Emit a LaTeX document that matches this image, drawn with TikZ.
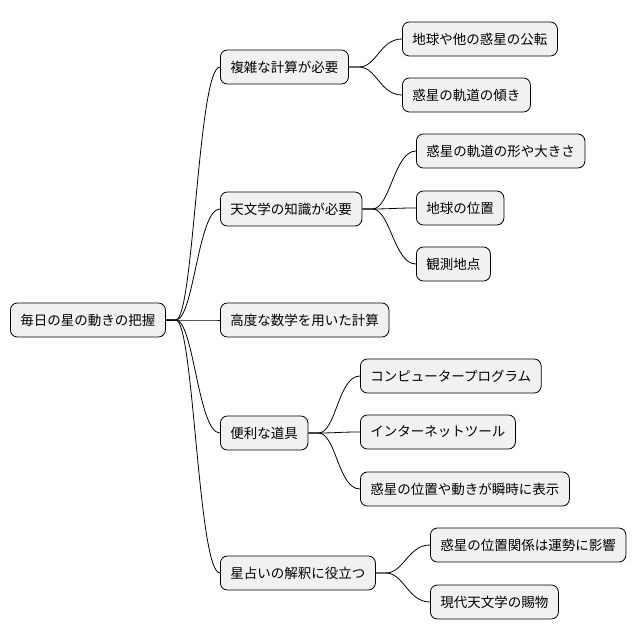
\documentclass[tikz,border=0pt]{standalone}
\usepackage{fontspec}
\setmainfont{Noto Sans CJK JP}
\begin{document}
\begin{tikzpicture}[x=1pt,y=-1pt,
  box/.style={draw=black,line width=0.8pt,fill={rgb,255:red,241;green,241;blue,241},rounded corners=7pt,
    anchor=west,minimum height=34pt,inner xsep=10pt,font=\fontsize{13.5}{15}\selectfont},
  link/.style={draw=black,line width=0.8pt}]
\useasboundingbox (0,0) rectangle (642,640);
\node[box] (r) at (10,320) {毎日の星の動きの把握};
\node[box] (a) at (220,67) {複雑な計算が必要};
\node[box] (b) at (220,209) {天文学の知識が必要};
\node[box] (c) at (220,320) {高度な数学を用いた計算};
\node[box] (d) at (220,433) {便利な道具};
\node[box] (e) at (220,573) {星占いの解釈に役立つ};
\node[box] (a1) at (402,39) {地球や他の惑星の公転};
\node[box] (a2) at (402,95) {惑星の軌道の傾き};
\node[box] (b1) at (416,151) {惑星の軌道の形や大きさ};
\node[box] (b2) at (416,208) {地球の位置};
\node[box] (b3) at (416,264) {観測地点};
\node[box] (d1) at (360,376) {コンピュータープログラム};
\node[box] (d2) at (360,432) {インターネットツール};
\node[box] (d3) at (360,489) {惑星の位置や動きが瞬時に表示};
\node[box] (e1) at (430,545) {惑星の位置関係は運勢に影響};
\node[box] (e2) at (430,602) {現代天文学の賜物};
\foreach \p/\c in {r/a,r/b,r/c,r/d,r/e,a/a1,a/a2,b/b1,b/b2,b/b3,d/d1,d/d2,d/d3,e/e1,e/e2}
  \draw[link] (\p.east) -- ++(10,0) .. controls +(18,0) and +(-22,0) .. (\c.west);
\end{tikzpicture}
\end{document}
